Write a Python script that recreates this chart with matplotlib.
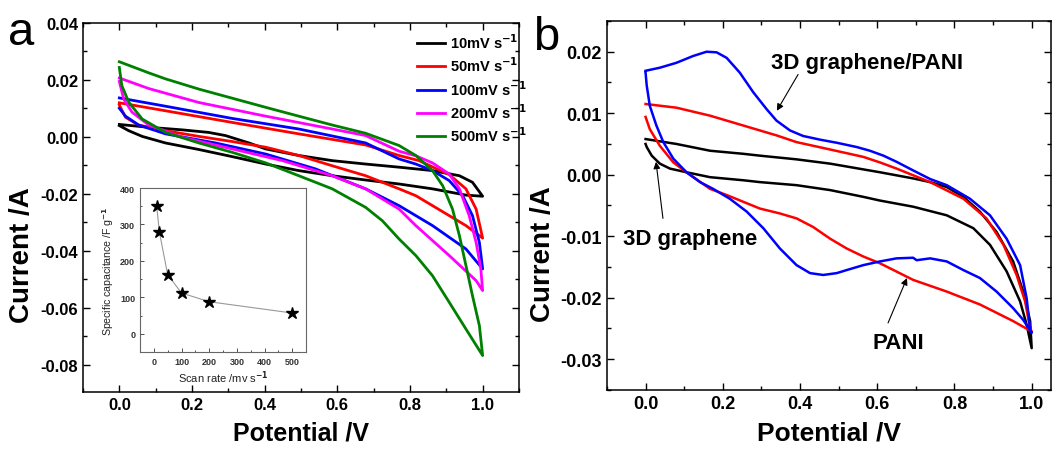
import numpy as np
import matplotlib
matplotlib.use('Agg')
import matplotlib.pyplot as plt
from matplotlib.ticker import MultipleLocator

plt.rcParams['font.family'] = ['Liberation Sans', 'DejaVu Sans']
plt.rcParams['font.weight'] = 'bold'
plt.rcParams['mathtext.default'] = 'bf'

# ---- panel a : CV at different scan rates (x = V, y = A) ----
# each loop: forward branch 0 -> 1 V, then return branch 1 -> 0 V
v10_fwd = [0.0, 0.081, 0.173, 0.246, 0.292, 0.357, 0.403, 0.494, 0.586, 0.678, 0.770, 0.862, 0.936, 0.972, 1.0]
i10_fwd = [0.0044, 0.0034, 0.0025, 0.0016, 0.0005, -0.0021, -0.0042, -0.0065, -0.0083, -0.0095, -0.0106, -0.0118, -0.0136, -0.0159, -0.0208]
v10_rev = [1.0, 0.954, 0.862, 0.770, 0.678, 0.586, 0.494, 0.403, 0.311, 0.219, 0.127, 0.063, 0.026, 0.0]
i10_rev = [-0.0208, -0.0204, -0.0182, -0.0165, -0.0151, -0.0136, -0.0118, -0.0095, -0.0069, -0.0044, -0.0021, 0.0002, 0.0022, 0.0040]

v50_fwd = [0.0, 0.127, 0.311, 0.494, 0.678, 0.770, 0.825, 0.862, 0.908, 0.954, 0.982, 1.0]
i50_fwd = [0.0120, 0.0092, 0.0051, 0.0011, -0.0028, -0.0065, -0.0083, -0.0105, -0.0132, -0.0182, -0.0253, -0.0355]
v50_rev = [1.0, 0.954, 0.908, 0.862, 0.816, 0.770, 0.678, 0.586, 0.494, 0.403, 0.311, 0.219, 0.127, 0.053, 0.017, 0.0]
i50_rev = [-0.0355, -0.0311, -0.0276, -0.0241, -0.0206, -0.0182, -0.0136, -0.0101, -0.0065, -0.0036, -0.0016, 0.0002, 0.0022, 0.0042, 0.0069, 0.0112]

v100_fwd = [0.0, 0.127, 0.311, 0.494, 0.678, 0.770, 0.816, 0.862, 0.908, 0.945, 0.972, 0.991, 1.0]
i100_fwd = [0.0137, 0.0108, 0.0065, 0.0028, -0.0021, -0.0077, -0.0095, -0.0118, -0.0153, -0.0206, -0.0276, -0.0370, -0.0463]
v100_rev = [1.0, 0.954, 0.862, 0.770, 0.678, 0.540, 0.403, 0.265, 0.127, 0.053, 0.017, 0.0]
i100_rev = [-0.0463, -0.0393, -0.0311, -0.0241, -0.0182, -0.0112, -0.0060, -0.0021, 0.0011, 0.0042, 0.0073, 0.0101]

v200_fwd = [0.0, 0.081, 0.219, 0.403, 0.586, 0.678, 0.770, 0.816, 0.862, 0.908, 0.936, 0.963, 0.982, 0.995, 1.0]
i200_fwd = [0.0207, 0.0170, 0.0121, 0.0073, 0.0028, 0.0005, -0.0050, -0.0066, -0.0091, -0.0130, -0.0182, -0.0276, -0.0370, -0.0463, -0.0539]
v200_rev = [1.0, 0.982, 0.908, 0.816, 0.770, 0.678, 0.586, 0.449, 0.311, 0.173, 0.081, 0.035, 0.012, 0.0]
i200_rev = [-0.0539, -0.0504, -0.0416, -0.0311, -0.0253, -0.0182, -0.0136, -0.0083, -0.0042, -0.0001, 0.0042, 0.0087, 0.0133, 0.0195]

v500_fwd = [0.0, 0.081, 0.127, 0.219, 0.311, 0.403, 0.494, 0.586, 0.678, 0.770, 0.816, 0.862, 0.890, 0.917, 0.936, 0.954, 0.972, 0.991, 1.0]
i500_fwd = [0.0264, 0.0225, 0.0204, 0.0168, 0.0136, 0.0104, 0.0073, 0.0042, 0.0013, -0.0030, -0.0065, -0.0118, -0.0171, -0.0253, -0.0346, -0.0451, -0.0557, -0.0662, -0.0767]
v500_rev = [1.0, 0.954, 0.908, 0.862, 0.816, 0.770, 0.724, 0.678, 0.586, 0.494, 0.403, 0.311, 0.219, 0.127, 0.063, 0.026, 0.007, 0.0]
i500_rev = [-0.0767, -0.0674, -0.0580, -0.0487, -0.0416, -0.0358, -0.0294, -0.0247, -0.0182, -0.0136, -0.0091, -0.0054, -0.0021, 0.0016, 0.0063, 0.0122, 0.0180, 0.0244]

rate_labels = ['10mV s$^{-1}$', '50mV s$^{-1}$', '100mV s$^{-1}$', '200mV s$^{-1}$', '500mV s$^{-1}$']

# inset: specific capacitance vs scan rate
scan_rate = [10, 20, 50, 100, 200, 500]
capacitance = [352, 279, 162, 112, 88, 57]

# ---- panel b : 3D graphene, PANI, 3D graphene/PANI ----
g_fwd_v = [0.0, 0.080, 0.167, 0.253, 0.296, 0.391, 0.478, 0.607, 0.693, 0.737, 0.780, 0.823, 0.866, 0.909, 0.952, 0.978, 0.996, 1.0]
g_fwd_i = [0.0058, 0.0050, 0.0039, 0.0034, 0.0031, 0.0025, 0.0018, 0.0004, -0.0006, -0.0012, -0.0020, -0.0036, -0.0060, -0.0093, -0.0141, -0.0190, -0.0238, -0.0282]
g_rev_v = [1.0, 0.987, 0.970, 0.935, 0.892, 0.849, 0.780, 0.693, 0.607, 0.564, 0.478, 0.391, 0.296, 0.253, 0.167, 0.106, 0.063, 0.037, 0.016, 0.003, 0.0]
g_rev_i = [-0.0282, -0.0244, -0.0206, -0.0157, -0.0114, -0.0087, -0.0066, -0.0052, -0.0042, -0.0036, -0.0025, -0.0017, -0.0012, -0.0009, -0.0004, 0.0004, 0.0010, 0.0018, 0.0031, 0.0045, 0.0050]

p_fwd_v = [0.0, 0.080, 0.167, 0.253, 0.339, 0.391, 0.478, 0.564, 0.607, 0.650, 0.737, 0.823, 0.883, 0.927, 0.961, 0.983, 0.996, 1.0]
p_fwd_i = [0.0115, 0.0109, 0.0096, 0.0080, 0.0064, 0.0053, 0.0041, 0.0029, 0.0020, 0.0010, -0.0012, -0.0039, -0.0071, -0.0114, -0.0163, -0.0206, -0.0250, -0.0255]
p_rev_v = [1.0, 0.952, 0.866, 0.780, 0.693, 0.607, 0.564, 0.521, 0.478, 0.434, 0.391, 0.348, 0.296, 0.210, 0.167, 0.106, 0.072, 0.037, 0.011, 0.0]
p_rev_i = [-0.0255, -0.0238, -0.0211, -0.0190, -0.0171, -0.0144, -0.0133, -0.0120, -0.0104, -0.0085, -0.0071, -0.0063, -0.0055, -0.0033, -0.0023, 0.0004, 0.0020, 0.0047, 0.0074, 0.0094]

gp_fwd_v = [0.0, 0.037, 0.080, 0.123, 0.158, 0.184, 0.210, 0.244, 0.279, 0.313, 0.339, 0.374, 0.408, 0.452, 0.495, 0.547, 0.581, 0.616, 0.650, 0.693, 0.737, 0.780, 0.840, 0.892, 0.935, 0.970, 0.987, 0.996, 1.0]
gp_fwd_i = [0.0169, 0.0174, 0.0182, 0.0193, 0.0200, 0.0199, 0.0190, 0.0166, 0.0134, 0.0107, 0.0088, 0.0072, 0.0063, 0.0057, 0.0052, 0.0045, 0.0039, 0.0031, 0.0021, 0.0007, -0.0007, -0.0017, -0.0039, -0.0066, -0.0104, -0.0147, -0.0201, -0.0252, -0.0257]
gp_rev_v = [1.0, 0.978, 0.952, 0.909, 0.866, 0.823, 0.780, 0.737, 0.702, 0.693, 0.650, 0.607, 0.564, 0.521, 0.495, 0.460, 0.426, 0.391, 0.348, 0.305, 0.262, 0.218, 0.175, 0.141, 0.106, 0.072, 0.046, 0.028, 0.011, 0.003, 0.0]
gp_rev_i = [-0.0257, -0.0236, -0.0217, -0.0190, -0.0168, -0.0155, -0.0141, -0.0136, -0.0139, -0.0135, -0.0136, -0.0141, -0.0147, -0.0155, -0.0160, -0.0163, -0.0160, -0.0147, -0.0120, -0.0087, -0.0060, -0.0039, -0.0023, -0.0012, 0.0004, 0.0026, 0.0053, 0.0080, 0.0112, 0.0145, 0.0166]


def style_axes(ax, tick_size):
    for s in ax.spines.values():
        s.set_linewidth(1.1)
    ax.tick_params(which='both', direction='in', top=True, right=True, width=1.0, labelsize=tick_size)
    ax.tick_params(which='major', length=5)
    ax.tick_params(which='minor', length=3)
    for lab in ax.get_xticklabels() + ax.get_yticklabels():
        lab.set_fontweight('bold')


fig = plt.figure(figsize=(10.6, 4.52), dpi=100)

# panel a
ax1 = fig.add_axes([0.0783, 0.1305, 0.4113, 0.8164])
colors = ['black', 'red', 'blue', 'magenta', 'green']
loops = [(v10_fwd, i10_fwd, v10_rev, i10_rev),
         (v50_fwd, i50_fwd, v50_rev, i50_rev),
         (v100_fwd, i100_fwd, v100_rev, i100_rev),
         (v200_fwd, i200_fwd, v200_rev, i200_rev),
         (v500_fwd, i500_fwd, v500_rev, i500_rev)]
for (vf, jf, vr, jr), c, lab in zip(loops, colors, rate_labels):
    ax1.plot(vf + vr, jf + jr, color=c, lw=2.0, label=lab)
ax1.set_xlim(-0.1, 1.1)
ax1.set_ylim(-0.0895, 0.04)
ax1.xaxis.set_major_locator(MultipleLocator(0.2))
ax1.xaxis.set_minor_locator(MultipleLocator(0.1))
ax1.yaxis.set_major_locator(MultipleLocator(0.02))
ax1.yaxis.set_minor_locator(MultipleLocator(0.01))
ax1.xaxis.set_major_formatter(plt.FormatStrFormatter('%.1f'))
ax1.yaxis.set_major_formatter(plt.FormatStrFormatter('%.2f'))
style_axes(ax1, 12)
ax1.set_xlabel('Potential /V', fontsize=18, fontweight='bold', labelpad=6)
ax1.set_ylabel('Current /A', fontsize=20, fontweight='bold')
ax1.yaxis.set_label_coords(-0.11, 0.375)
leg = ax1.legend(loc='upper left', bbox_to_anchor=(0.766, 0.975), frameon=False,
                 fontsize=10.5, handlelength=1.9, handletextpad=0.35, labelspacing=0.32,
                 borderaxespad=0.0, borderpad=0.0)
for t in leg.get_texts():
    t.set_fontweight('bold')
fig.text(0.008, 0.90, 'a', fontsize=34, fontweight='normal')

# inset
axin = fig.add_axes([0.1321, 0.219, 0.1566, 0.3628])
axin.plot(scan_rate, capacitance, color='#999999', lw=0.8)
axin.plot(scan_rate, capacitance, ls='none', marker='*', ms=9, color='black')
axin.set_xlim(-50, 550)
axin.set_ylim(-50, 400)
axin.xaxis.set_major_locator(MultipleLocator(100))
axin.xaxis.set_minor_locator(MultipleLocator(50))
axin.yaxis.set_major_locator(MultipleLocator(100))
axin.yaxis.set_minor_locator(MultipleLocator(50))
for s in axin.spines.values():
    s.set_linewidth(0.8)
    s.set_color('#666666')
axin.tick_params(which='both', direction='in', width=0.6, colors='#333333', labelsize=6.5)
axin.tick_params(which='major', length=3)
axin.tick_params(which='minor', length=1.5)
for lab in axin.get_xticklabels() + axin.get_yticklabels():
    lab.set_fontweight('bold')
axin.set_xlabel('Scan rate /mv s$^{-1}$', fontsize=8, fontweight='normal', labelpad=2,
                color='#222222')
axin.set_ylabel('Specific capacitance /F g$^{-1}$', fontsize=7.6, fontweight='normal', labelpad=3,
                color='#222222')

# panel b
ax2 = fig.add_axes([0.5726, 0.135, 0.4189, 0.8164])
ax2.plot(g_fwd_v + g_rev_v, g_fwd_i + g_rev_i, color='black', lw=1.8)
ax2.plot(p_fwd_v + p_rev_v, p_fwd_i + p_rev_i, color='red', lw=1.8)
ax2.plot(gp_fwd_v + gp_rev_v, gp_fwd_i + gp_rev_i, color='blue', lw=1.8)
ax2.set_xlim(-0.1, 1.05)
ax2.set_ylim(-0.035, 0.025)
ax2.xaxis.set_major_locator(MultipleLocator(0.2))
ax2.xaxis.set_minor_locator(MultipleLocator(0.1))
ax2.yaxis.set_major_locator(MultipleLocator(0.01))
ax2.yaxis.set_minor_locator(MultipleLocator(0.005))
ax2.xaxis.set_major_formatter(plt.FormatStrFormatter('%.1f'))
ax2.yaxis.set_major_formatter(plt.FormatStrFormatter('%.2f'))
style_axes(ax2, 13)
ax2.set_xlabel('Potential /V', fontsize=19, fontweight='bold', labelpad=6)
ax2.set_ylabel('Current /A', fontsize=20, fontweight='bold')
ax2.yaxis.set_label_coords(-0.115, 0.37)

arrow = dict(arrowstyle='-|>', color='black', lw=0.8, mutation_scale=10, shrinkA=0, shrinkB=0)
ax2.annotate('', xy=(0.340, 0.0104), xytext=(0.395, 0.0163), arrowprops=arrow)
ax2.text(0.573, 0.0183, '3D graphene/PANI', fontsize=16, fontweight='bold', ha='center', va='center')
ax2.annotate('', xy=(0.027, 0.0021), xytext=(0.045, -0.0071), arrowprops=arrow)
ax2.text(0.115, -0.0104, '3D graphene', fontsize=16, fontweight='bold', ha='center', va='center')
ax2.annotate('', xy=(0.677, -0.0168), xytext=(0.628, -0.0241), arrowprops=arrow)
ax2.text(0.654, -0.0273, 'PANI', fontsize=16, fontweight='bold', ha='center', va='center')
fig.text(0.503, 0.89, 'b', fontsize=34, fontweight='normal')

fig.savefig('out.png', dpi=100)
